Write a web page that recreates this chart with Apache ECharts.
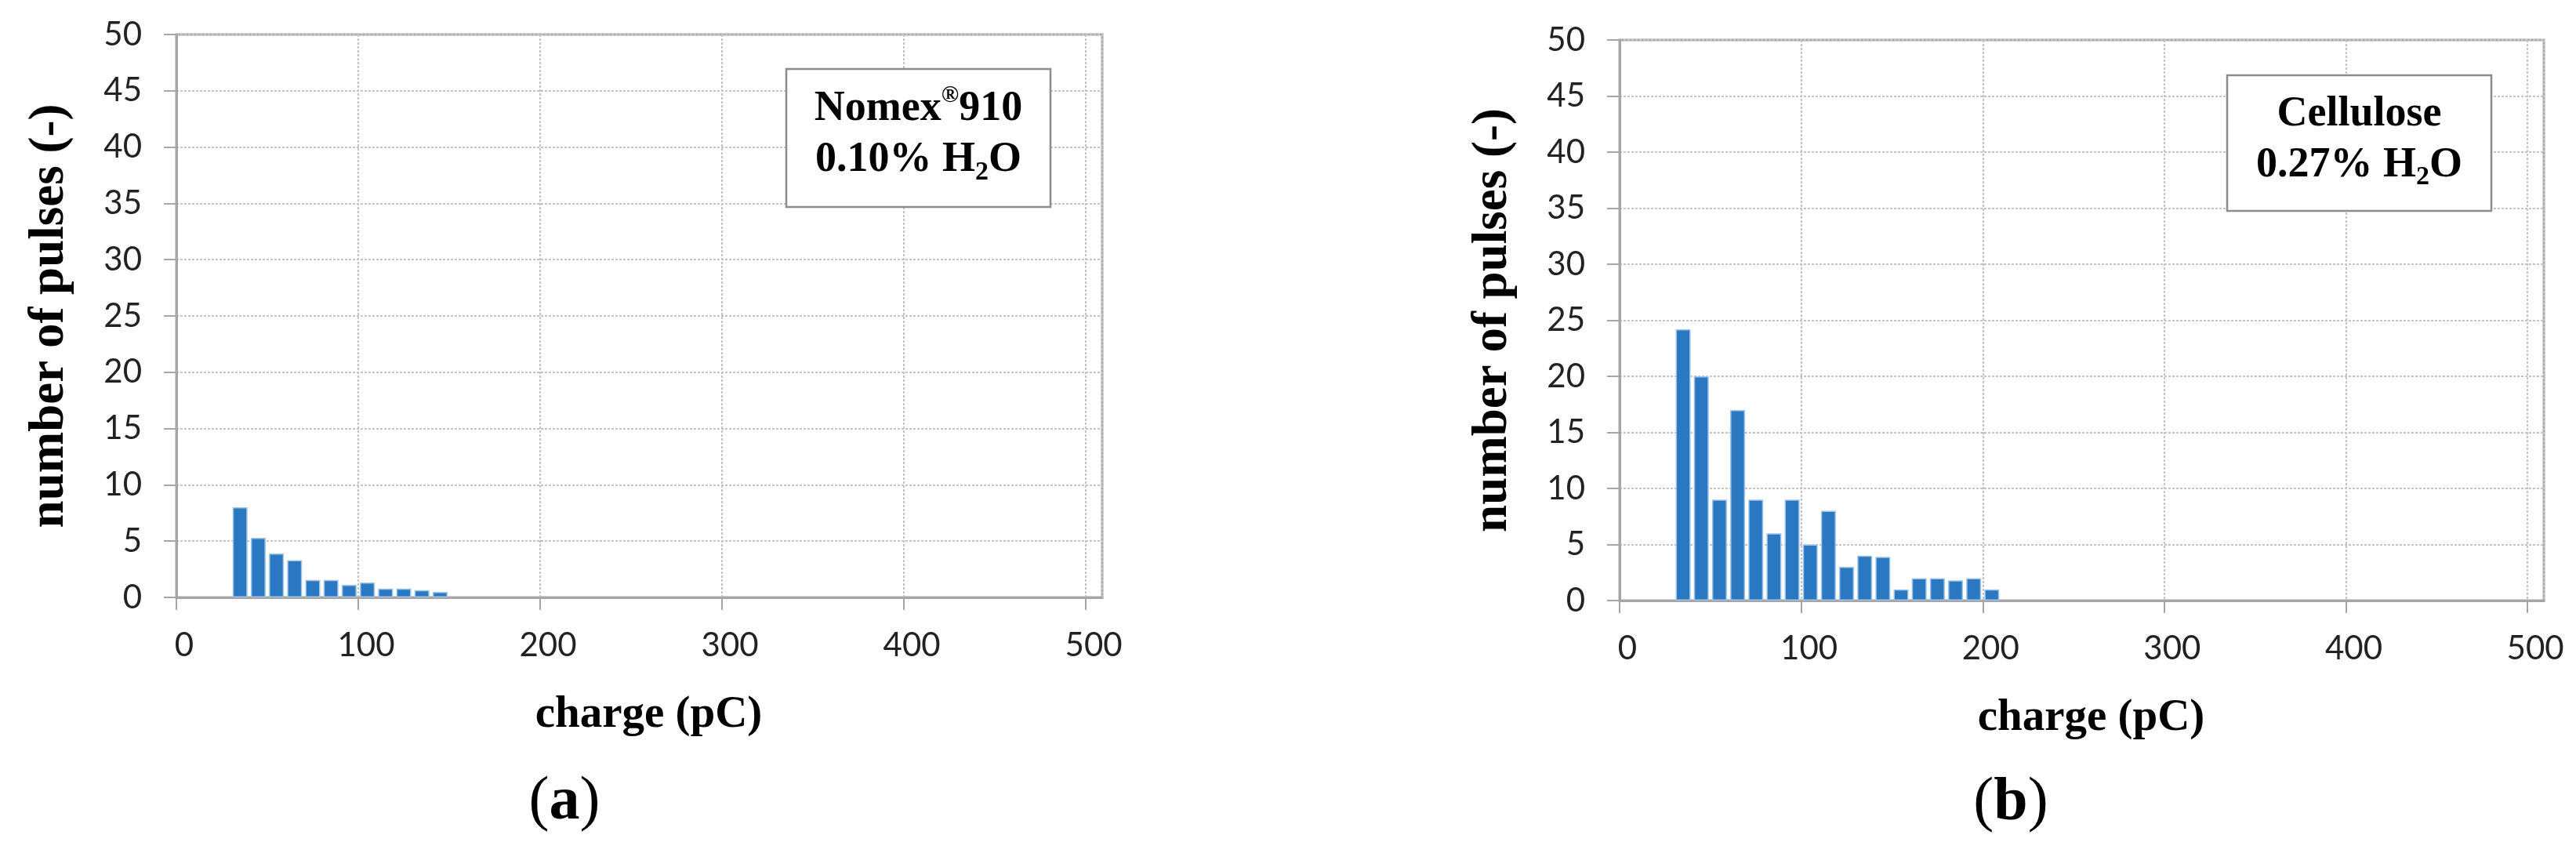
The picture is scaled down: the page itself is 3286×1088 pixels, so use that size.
<!DOCTYPE html>
<html><head><meta charset="utf-8">
<script src="https://cdn.jsdelivr.net/npm/echarts@6/dist/echarts.min.js"></script>
<style>html,body{margin:0;padding:0;background:#fff}#c{width:3286px;height:1088px}</style>
</head><body><div id="c"></div>
<script>
// ---- data ----
const nomexCharge = [35, 45, 55, 65, 75, 85, 95, 105, 115, 125, 135, 145];
const nomexPulses = [8.0, 5.3, 3.9, 3.3, 1.55, 1.55, 1.12, 1.33, 0.78, 0.78, 0.64, 0.48];
const celluloseCharge = [35, 45, 55, 65, 75, 85, 95, 105, 115, 125, 135, 145, 155, 165, 175, 185, 195, 205];
const cellulosePulses = [24.2, 20, 9, 17, 9, 6, 9, 5, 8, 3, 4, 3.9, 1, 2, 2, 1.8, 2, 1];
const xTickLabels = [0, 100, 200, 300, 400, 500];
const yTickLabels = [0, 5, 10, 15, 20, 25, 30, 35, 40, 45, 50];
const xAxisTitle = 'charge (pC)';
const yAxisTitle = 'number of pulses (-)';

const serif = '"Liberation Serif", "Times New Roman", serif';
const sans = 'Lato, "Open Sans", sans-serif';
const gridGray = '#c4c4c4';
const axisGray = '#a6a6a6';
const barBlue = '#2a78c2';

function xAxisCfg(gi) {
  return {
    type: 'value', gridIndex: gi,
    min: xTickLabels[0], max: 509, interval: xTickLabels[1] - xTickLabels[0],
    name: xAxisTitle, nameLocation: 'middle', nameGap: 122,
    nameTextStyle: { fontFamily: serif, fontWeight: 'bold', fontSize: 57, color: '#000', padding: [0, 0, 0, 24] },
    axisLine: { show: true, lineStyle: { color: axisGray, width: 3 } },
    axisTick: { show: true, length: 16, lineStyle: { color: axisGray, width: 2 } },
    axisLabel: { fontFamily: sans, fontSize: 42, color: '#222', margin: 40, showMaxLabel: false, padding: [0, 0, 0, 20] },
    splitLine: { show: true, lineStyle: { color: gridGray, width: 2, type: [3, 2] } }
  };
}
function yAxisCfg(gi) {
  return {
    type: 'value', gridIndex: gi,
    min: yTickLabels[0], max: yTickLabels[yTickLabels.length - 1], interval: yTickLabels[1] - yTickLabels[0],
    name: yAxisTitle, nameLocation: 'middle', nameGap: 130,
    nameTextStyle: { fontFamily: serif, fontWeight: 'bold', fontSize: 63, color: '#000' },
    axisLine: { show: true, lineStyle: { color: axisGray, width: 3 } },
    axisTick: { show: true, length: 16, lineStyle: { color: axisGray, width: 2 } },
    axisLabel: { fontFamily: sans, fontSize: 42, color: '#222', margin: 44 },
    splitLine: { show: true, lineStyle: { color: gridGray, width: 2, type: [3, 2] } }
  };
}

const rich = {
  m: { fontFamily: serif, fontWeight: 'bold', fontSize: 54, lineHeight: 65, color: '#000' },
  sup: { fontFamily: serif, fontWeight: 'bold', fontSize: 30, lineHeight: 40, verticalAlign: 'top', color: '#000' },
  sub: { fontFamily: serif, fontWeight: 'bold', fontSize: 34, lineHeight: 30, verticalAlign: 'bottom', color: '#000' }
};
const richLbl = {
  p: { fontFamily: serif, fontSize: 78, color: '#000' },
  l: { fontFamily: serif, fontWeight: 'bold', fontSize: 78, color: '#000' }
};

function box(x, y, w, h, text) {
  return [
    { type: 'rect', z: 100, shape: { x: x, y: y, width: w, height: h },
      style: { fill: '#fff', stroke: '#8c8c8c', lineWidth: 2.5 } },
    { type: 'text', z: 101, x: x + w / 2, y: y + h / 2 - 4,
      style: { text: text, rich: rich, align: 'center', verticalAlign: 'middle', textAlign: 'center', textVerticalAlign: 'middle' } }
  ];
}

const chart = echarts.init(document.getElementById('c'), null, { renderer: 'canvas' });
chart.setOption({
  backgroundColor: '#fff',
  animation: false,
  grid: [
    { left: 225, right: 1880, top: 44, bottom: 326, show: true, borderColor: axisGray, borderWidth: 3, backgroundColor: 'transparent' },
    { left: 2066, right: 41, top: 51, bottom: 322, show: true, borderColor: axisGray, borderWidth: 3, backgroundColor: 'transparent' }
  ],
  xAxis: [xAxisCfg(0), xAxisCfg(1)],
  yAxis: [yAxisCfg(0), yAxisCfg(1)],
  series: [
    { type: 'bar', xAxisIndex: 0, yAxisIndex: 0, barWidth: 19,
      itemStyle: { color: barBlue, borderColor: '#9fc4e8', borderWidth: 1.5 },
      data: nomexCharge.map((c, i) => [c, nomexPulses[i]]) },
    { type: 'bar', xAxisIndex: 1, yAxisIndex: 1, barWidth: 19,
      itemStyle: { color: barBlue, borderColor: '#9fc4e8', borderWidth: 1.5 },
      data: celluloseCharge.map((c, i) => [c, cellulosePulses[i]]) }
  ],
  graphic: [].concat(
    box(1003, 88, 337, 176, '{m|Nomex}{sup|®}{m|910}\n{m|0.10% H}{sub|2}{m|O}'),
    box(2841, 96, 337, 173, '{m|Cellulose}\n{m|0.27% H}{sub|2}{m|O}'),
    [
      { type: 'text', x: 720, y: 1024, style: { text: '{p|(}{l|a}{p|)}', rich: richLbl, align: 'center', verticalAlign: 'middle', textAlign: 'center', textVerticalAlign: 'middle' } },
      { type: 'text', x: 2565, y: 1025, style: { text: '{p|(}{l|b}{p|)}', rich: richLbl, align: 'center', verticalAlign: 'middle', textAlign: 'center', textVerticalAlign: 'middle' } }
    ]
  )
});
</script></body></html>
